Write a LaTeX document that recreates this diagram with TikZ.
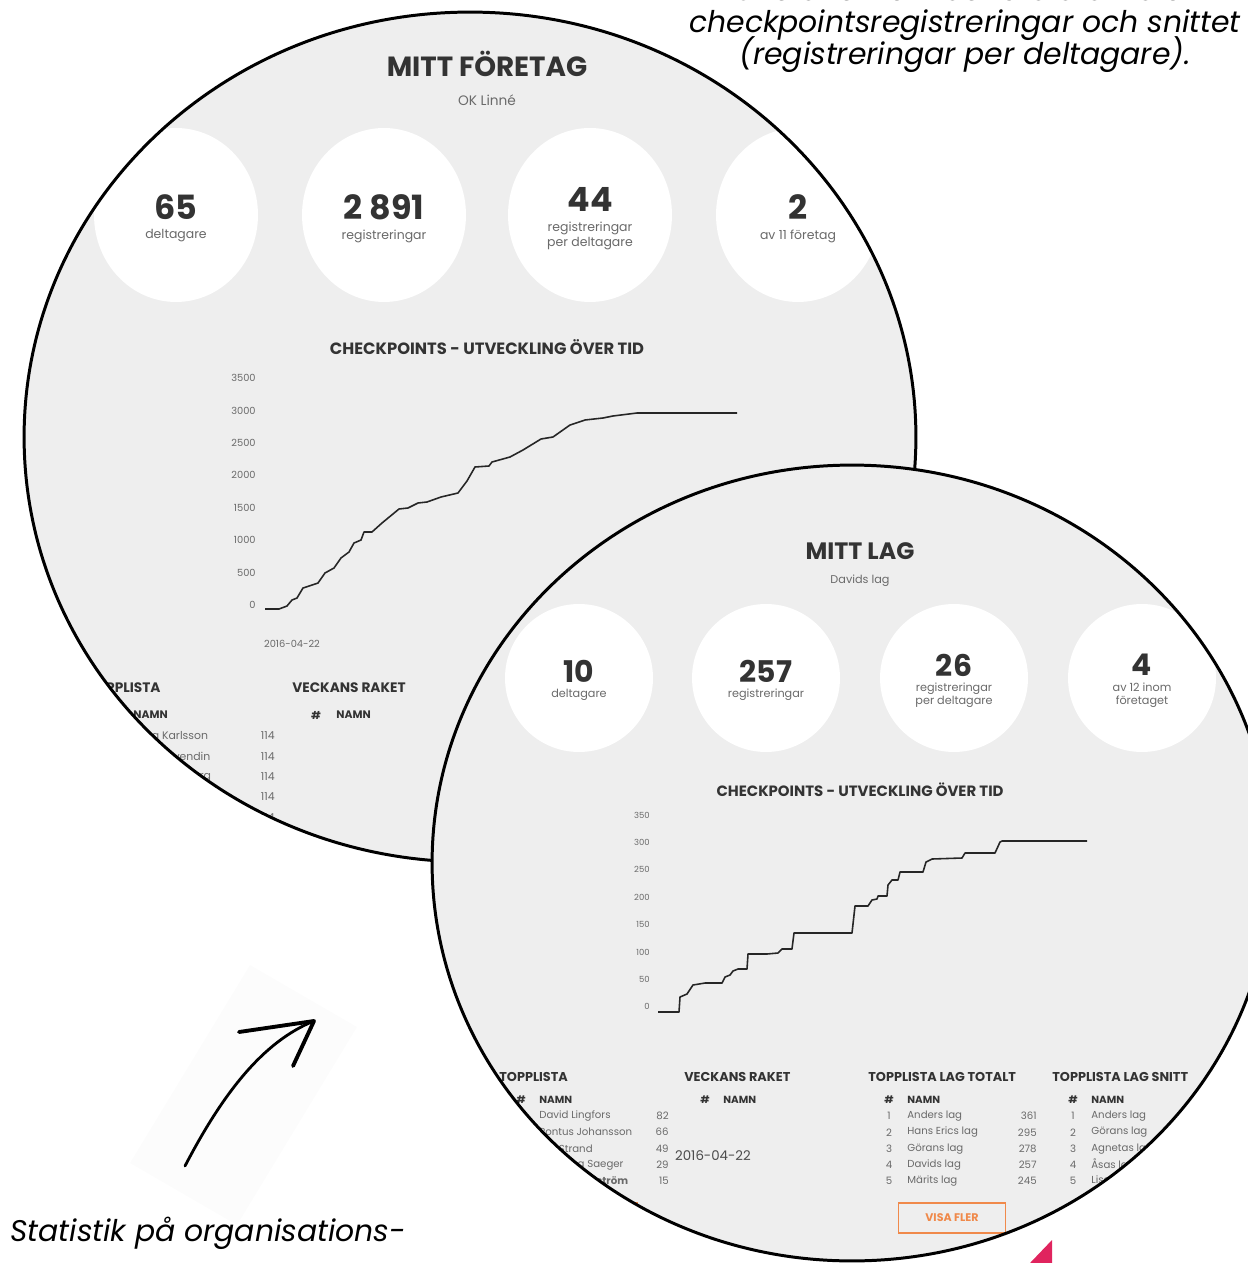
\documentclass[tikz,border=0pt]{standalone}
\usepackage{fontspec}
\setmainfont{Poppins}
\usetikzlibrary{calc}

\definecolor{panelgray}{HTML}{EEEEEE}
\definecolor{titlegray}{HTML}{333333}
\definecolor{textgray}{HTML}{6A6A6A}
\definecolor{visaorange}{HTML}{F0894A}
\definecolor{markpink}{HTML}{E0245E}
\definecolor{hazegray}{HTML}{FCFCFC}

\newcommand\fsz[2]{\fontsize{#1}{#2}\selectfont}

\begin{document}
\begin{tikzpicture}[x = 0.02cm, y = -0.02cm,
	panel/.style = {fill = panelgray},
	rim/.style = {draw = black, line width = 1.7pt},
	caption/.style = {font = \itshape\fsz{17}{20}, text = black, inner sep = 0pt},
	headA/.style = {font = \bfseries\fsz{15.8}{18}, text = titlegray},
	subA/.style = {font = \fsz{7.8}{9}, text = textgray},
	numA/.style = {font = \bfseries\fsz{19}{21}, text = titlegray},
	lblA/.style = {font = \fsz{7.1}{8.6}, text = textgray, align = center},
	chartA/.style = {font = \bfseries\fsz{9.3}{11}, text = titlegray},
	axisA/.style = {font = \fsz{5.6}{6}, text = textgray, anchor = east, inner sep = 0pt},
	tabA/.style = {font = \bfseries\fsz{7.8}{9}, text = titlegray, anchor = west, inner sep = 0pt},
	colA/.style = {font = \bfseries\fsz{6.2}{7}, text = titlegray, inner sep = 0pt},
	rowA/.style = {font = \fsz{6.2}{7}, text = textgray, inner sep = 0pt},
	headB/.style = {font = \bfseries\fsz{13.5}{15}, text = titlegray},
	subB/.style = {font = \fsz{6.4}{7.5}, text = textgray},
	numB/.style = {font = \bfseries\fsz{17}{19}, text = titlegray},
	lblB/.style = {font = \fsz{6.4}{7.2}, text = textgray, align = center},
	chartB/.style = {font = \bfseries\fsz{8.5}{10}, text = titlegray},
	axisB/.style = {font = \fsz{4.8}{5}, text = textgray, anchor = east, inner sep = 0pt},
	tabB/.style = {font = \bfseries\fsz{7.3}{8.5}, text = titlegray, anchor = west, inner sep = 0pt},
	colB/.style = {font = \bfseries\fsz{5.9}{7}, text = titlegray, inner sep = 0pt},
	rowB/.style = {font = \fsz{5.8}{7}, text = textgray, inner sep = 0pt},
	trend/.style = {draw = black!85, line width = 0.9pt, line join = round},
	visabtn/.style = {draw = visaorange, line width = 0.6pt, text = visaorange,
		font = \bfseries\fsz{6.3}{7}, minimum width = 2.14cm, minimum height = 0.6cm}
	]
	\useasboundingbox (0,0) rectangle (1247,1263);

	\fill [hazegray] (250,965) -- (357,1027) -- (237,1225) -- (130,1163) -- cycle;

	\node [caption, anchor = base] (capline1) at (965,1) {Ur statistiken fås totala antalet};
	\node [caption, anchor = base] (capline2) at (965,33) {checkpointsregistreringar och snittet};
	\node [caption, anchor = base] (capline3) at (965,65) {(registreringar per deltagare).};
	\node [caption, anchor = base west] (capbottom) at (10,1241) {Statistik på organisations-};

	\coordinate (arrowtail) at (185,1166);
	\coordinate (arrowtip) at (314,1021);
	\draw [line width = 1.6pt, line cap = round]
		(arrowtail) .. controls (222,1095) and (262,1042) .. (arrowtip);
	\draw [line width = 2.2pt, line cap = round, line join = round]
		(239,1032) -- (arrowtip) -- (293,1066);

	\fill [markpink] (1030,1263) -- (1052,1240) -- (1052,1263) -- cycle;

	% company panel
	\fill [panel] (470,437) ellipse [x radius = 8.92cm, y radius = 8.5cm];
	\begin{scope}
		\clip (470,437) ellipse [x radius = 8.92cm, y radius = 8.5cm];

		\node [headA] (companyhead) at (487,64) {MITT FÖRETAG};
		\node [subA] (companyname) at (487,100) {OK Linné};

		\fill [white] (176,215) ellipse [x radius = 1.64cm, y radius = 1.74cm];
		\fill [white] (384,215) ellipse [x radius = 1.64cm, y radius = 1.74cm];
		\fill [white] (590,215) ellipse [x radius = 1.64cm, y radius = 1.74cm];
		\fill [white] (798,215) ellipse [x radius = 1.64cm, y radius = 1.74cm];

		\node [numA] (numdeltA) at (176,207) {65};
		\node [lblA] (lbldeltA) at (176,236) {deltagare};
		\node [numA] (numregA) at (384,207) {2 891};
		\node [lblA] (lblregA) at (384,236) {registreringar};
		\node [numA] (numsnittA) at (590,199) {44};
		\node [lblA] (lblsnittA) at (590,236) {registreringar\\per deltagare};
		\node [numA] (numplaceA) at (798,207) {2};
		\node [lblA] (lblplaceA) at (798,236) {av 11 företag};

		\node [chartA] (charttitleA) at (487,347) {CHECKPOINTS - UTVECKLING ÖVER TID};
		\foreach \v [count = \i from 0] in {3500,3000,2500,2000,1500,1000,500,0}
			\node [axisA] (axisA\i) at (256,378+32.4*\i) {\v};
		\draw [trend] (265,609) -- (279,609) -- (287,606) -- (292,600) -- (297,598)
			-- (303,588) -- (318,583) -- (325,573) -- (334,568) -- (341,558)
			-- (349,552) -- (354,543) -- (361,540) -- (364,532) -- (372,532)
			-- (382,523) -- (399,509) -- (408,508) -- (418,503) -- (427,502)
			-- (441,497) -- (458,493) -- (467,481) -- (475,467) -- (489,466)
			-- (492,462) -- (510,457) -- (523,450) -- (541,439) -- (553,437)
			-- (570,425) -- (585,420) -- (603,418) -- (613,416) -- (637,413)
			-- (737,413);
		\node [axisA, anchor = center] (dateA) at (292,644) {2016-04-22};

		\node [tabA] (toplistA) at (87,688) {TOPPLISTA};
		\node [tabA] (rocketA) at (292,688) {VECKANS RAKET};
		\node [colA, anchor = west] (namnA) at (133,715) {NAMN};
		\node [colA] (hashrocketA) at (316,715) {\#};
		\node [colA, anchor = west] (namnrocketA) at (336,715) {NAMN};
		\foreach \n [count = \i from 0] in {Lena Karlsson,Maria Svendin,Karin Hedberg}
			\node [rowA, anchor = west] (nameA\i) at (133,736+20.3*\i) {\n};
		\foreach \i in {0,...,4}
			\node [rowA, anchor = east] (scoreA\i) at (275,736+20.3*\i) {114};
	\end{scope}
	\draw [rim] (470,437) ellipse [x radius = 8.92cm, y radius = 8.5cm];

	% team panel
	\fill [panel] (852,863) ellipse [x radius = 8.4cm, y radius = 7.96cm];
	\begin{scope}
		\clip (852,863) ellipse [x radius = 8.4cm, y radius = 7.96cm];

		\node [headB] (teamhead) at (860,551) {MITT LAG};
		\node [subB] (teamname) at (860,581) {Davids lag};

		\fill [white] (579,678) circle [radius = 1.48cm];
		\fill [white] (766,678) circle [radius = 1.48cm];
		\fill [white] (954,678) circle [radius = 1.48cm];
		\fill [white] (1142,678) circle [radius = 1.48cm];

		\node [numB] (numdeltB) at (579,671) {10};
		\node [lblB] (lbldeltB) at (579,695) {deltagare};
		\node [numB] (numregB) at (766,671) {257};
		\node [lblB] (lblregB) at (766,695) {registreringar};
		\node [numB] (numsnittB) at (954,665) {26};
		\node [lblB] (lblsnittB) at (954,695) {registreringar\\per deltagare};
		\node [numB] (numplaceB) at (1142,665) {4};
		\node [lblB] (lblplaceB) at (1142,695) {av 12 inom\\företaget};

		\node [chartB] (charttitleB) at (860,790) {CHECKPOINTS - UTVECKLING ÖVER TID};
		\foreach \v [count = \i from 0] in {350,300,250,200,150,100,50,0}
			\node [axisB] (axisB\i) at (650,815+27.4*\i) {\v};
		\draw [trend] (658,1012) -- (679,1012) -- (680,997) -- (687,994) -- (693,985)
			-- (705,983) -- (722,983) -- (725,977) -- (730,975) -- (733,971)
			-- (738,969) -- (747,969) -- (748,954) -- (767,954) -- (778,953)
			-- (782,949) -- (792,949) -- (794,933) -- (852,933) -- (855,906)
			-- (868,906) -- (872,900) -- (877,899) -- (878,896) -- (887,896)
			-- (888,885) -- (892,880) -- (898,880) -- (900,872) -- (923,872)
			-- (926,862) -- (932,859) -- (962,858) -- (965,853) -- (995,853)
			-- (1000,842) -- (1002,841) -- (1087,841);

		\node [tabB] (toplistB) at (499,1077) {TOPPLISTA};
		\node [tabB] (rocketB) at (684,1077) {VECKANS RAKET};
		\node [tabB] (teamtotalB) at (868,1077) {TOPPLISTA LAG TOTALT};
		\node [tabB] (teamavgB) at (1052,1077) {TOPPLISTA LAG SNITT};

		\node [colB] (hashB) at (521,1100) {\#};
		\node [colB, anchor = west] (namnB) at (539,1100) {NAMN};
		\node [colB] (hashrocketB) at (705,1100) {\#};
		\node [colB, anchor = west] (namnrocketB) at (723,1100) {NAMN};
		\node [colB] (hashtotalB) at (889,1100) {\#};
		\node [colB, anchor = west] (namntotalB) at (907,1100) {NAMN};
		\node [colB] (hashavgB) at (1073,1100) {\#};
		\node [colB, anchor = west] (namnavgB) at (1091,1100) {NAMN};

		\foreach \n/\s [count = \i from 0] in {David Lingfors/82,Pontus Johansson/66,Erik Strand/49,Johanna Saeger/29}
		{
			\node [rowB, anchor = west] (nameB\i) at (539,1116+16.2*\i) {\n};
			\node [rowB, anchor = east] (scoreB\i) at (669,1116+16.2*\i) {\s};
		}
		\node [rowB, anchor = west, font = \bfseries\fsz{5.8}{7}] (nameB4) at (539,1181) {Anna Sandström};
		\node [rowB, anchor = east] (scoreB4) at (669,1181) {15};

		\foreach \n/\s [count = \i] in {Anders lag/361,Hans Erics lag/295,Görans lag/278,Davids lag/257,Märits lag/245}
		{
			\node [rowB] (ranktotal\i) at (889,1100+16.2*\i) {\i};
			\node [rowB, anchor = west] (nametotal\i) at (907,1100+16.2*\i) {\n};
			\node [rowB, anchor = east] (scoretotal\i) at (1037,1100+16.2*\i) {\s};
		}
		\foreach \n [count = \i] in {Anders lag,Görans lag,Agnetas lag,Åsas lag,Lisas lag}
		{
			\node [rowB] (rankavg\i) at (1073,1100+16.2*\i) {\i};
			\node [rowB, anchor = west] (nameavg\i) at (1091,1100+16.2*\i) {\n};
		}

		\node [rowB, anchor = center, font = \fsz{7.6}{9}, text = black!70] (dateB) at (713,1156) {2016-04-22};

		\node [visabtn] (visaleft) at (584,1218) {VISA FLER};
		\node [visabtn] (visaright) at (952,1218) {VISA FLER};
	\end{scope}
	\draw [rim] (852,863) ellipse [x radius = 8.4cm, y radius = 7.96cm];
\end{tikzpicture}
\end{document}
